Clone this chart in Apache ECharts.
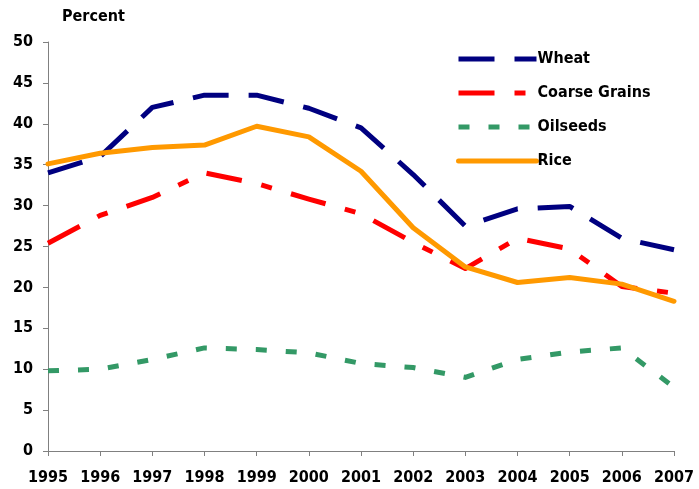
<!DOCTYPE html>
<html><head><meta charset="utf-8">
<script src="https://cdn.jsdelivr.net/npm/echarts@6/dist/echarts.min.js"></script>
<style>html,body{margin:0;padding:0;background:#fff}#c{width:699px;height:489px}</style>
</head><body><div id="c"></div>
<script>
const years = ['1995','1996','1997','1998','1999','2000','2001','2002','2003','2004','2005','2006','2007'];
const wheat = [34.0, 36.0, 42.0, 43.5, 43.5, 41.9, 39.5, 33.8, 27.5, 29.6, 29.9, 26.0, 24.6];
const coarseGrains = [25.4, 28.8, 31.0, 34.0, 32.7, 30.8, 29.0, 25.5, 22.3, 26.0, 24.7, 20.1, 19.3];
const oilseeds = [9.8, 10.0, 11.2, 12.6, 12.4, 12.0, 10.7, 10.2, 9.0, 11.2, 12.1, 12.6, 7.8];
const rice = [35.1, 36.4, 37.1, 37.4, 39.7, 38.4, 34.2, 27.3, 22.5, 20.6, 21.2, 20.4, 18.3];
const yTicks = [0, 5, 10, 15, 20, 25, 30, 35, 40, 45, 50];

const font = '"DejaVu Sans Condensed", "DejaVu Sans", sans-serif';
const chart = echarts.init(document.getElementById('c'), null, {renderer: 'canvas'});
function ser(name, data, color, type, cap) {
  return {name, type: 'line', data, symbol: 'none', showSymbol: false,
    lineStyle: {color, width: 5, type, cap: cap || 'butt', join: 'round'}, itemStyle: {color}};
}
chart.setOption({
  animation: false,
  title: {text: 'Percent', left: 57, top: 4,
    textStyle: {fontFamily: font, fontWeight: 'bold', fontSize: 16, color: '#000'}},
  grid: {left: 48, right: 25, top: 42, bottom: 38, containLabel: false},
  legend: {
    left: 451, top: 46, orient: 'vertical', itemWidth: 78, itemHeight: 14, itemGap: 18,
    itemStyle: {opacity: 0},
    lineStyle: {width: 5},
    textStyle: {fontFamily: font, fontWeight: 'bold', fontSize: 16, color: '#000', padding: [0,0,0,-4]},
    data: ['Wheat', 'Coarse Grains', 'Oilseeds', 'Rice']
  },
  xAxis: {
    type: 'category', data: years, boundaryGap: false,
    axisLine: {lineStyle: {color: '#808080', width: 1}},
    axisTick: {show: true, alignWithLabel: true, length: 5, lineStyle: {color: '#808080'}},
    axisLabel: {margin: 19, fontFamily: font, fontWeight: 'bold', fontSize: 16, color: '#000', interval: 0},
    splitLine: {show: false}
  },
  yAxis: {
    type: 'value', min: 0, max: 50, interval: 5,
    axisLine: {show: true, lineStyle: {color: '#808080', width: 1}},
    axisTick: {show: true, length: 5, lineStyle: {color: '#808080'}},
    axisLabel: {margin: 15, fontFamily: font, fontWeight: 'bold', fontSize: 16, color: '#000',
      formatter: v => yTicks.includes(v) ? String(v) : ''},
    splitLine: {show: false}
  },
  series: [
    ser('Wheat', wheat, '#000080', [36, 20]),
    ser('Coarse Grains', coarseGrains, '#ff0000', [36, 20, 11, 20]),
    ser('Oilseeds', oilseeds, '#339966', [11, 19]),
    ser('Rice', rice, '#ff9900', 'solid', 'round')
  ]
});
</script></body></html>
